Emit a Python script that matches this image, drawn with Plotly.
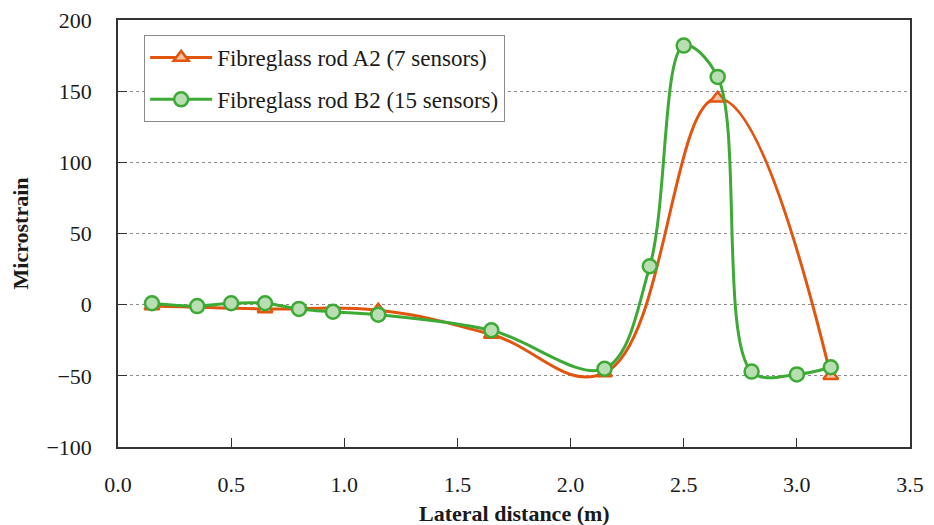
import plotly.graph_objects as go

# Sensor positions (m) and recorded microstrain
a2_x = [0.15, 0.65, 1.15, 1.65, 2.15, 2.65, 3.15]
a2_y = [-1, -3, -4, -21, -48, 145, -50]

b2_x = [0.15, 0.35, 0.5, 0.65, 0.8, 0.95, 1.15, 1.65, 2.15, 2.35, 2.5, 2.65, 2.8, 3.0, 3.15]
b2_y = [1, -1, 1, 1, -3, -5, -7, -18, -45, 27, 182, 160, -47, -49, -44]

x_ticks = [0.0, 0.5, 1.0, 1.5, 2.0, 2.5, 3.0, 3.5]
y_ticks = [-100, -50, 0, 50, 100, 150, 200]

SERIF = "Liberation Serif"

fig = go.Figure()
fig.add_trace(go.Scatter(
    x=a2_x, y=a2_y, mode="lines+markers", name="Fibreglass rod A2 (7 sensors)",
    legendgroup="a2",
    line=dict(color="#E2550F", width=3, shape="spline", smoothing=1.2),
    marker=dict(symbol="triangle-up", size=13, color="#F6C1A3",
                line=dict(color="#E2550F", width=2.5)),
))
fig.add_trace(go.Scatter(
    x=b2_x, y=b2_y, mode="lines+markers", name="Fibreglass rod B2 (15 sensors)",
    legendgroup="b2",
    line=dict(color="#3CAA35", width=3, shape="spline", smoothing=1.0),
    marker=dict(symbol="circle", size=14, color="#B9DEB2",
                line=dict(color="#3CAA35", width=2.5)),
))

# x-axis title placed below the tick labels
fig.add_annotation(
    text="<b>Lateral distance (m)</b>", xref="paper", yref="paper",
    x=0.5, y=-0.1546, xanchor="center", yanchor="middle", showarrow=False,
    font=dict(family=SERIF, size=22, color="#1a1a1a"),
)

fig.update_layout(
    width=934, height=525,
    margin=dict(l=118, r=24, t=20, b=78),
    paper_bgcolor="white", plot_bgcolor="white",
    font=dict(family=SERIF, size=22, color="#1a1a1a"),
    showlegend=True,
    legend=dict(
        x=0.033, y=0.965, xanchor="left", yanchor="top",
        bgcolor="white", bordercolor="#8a8a8a", borderwidth=1,
        font=dict(family=SERIF, size=23, color="#1a1a1a"),
        traceorder="grouped", tracegroupgap=9,
        itemwidth=62,
    ),
    xaxis=dict(
        range=[0, 3.5], tickvals=x_ticks,
        ticktext=[f"{v:.1f}" for v in x_ticks],
        ticks="inside", ticklen=9, tickcolor="#333", tickwidth=1,
        showline=True, linecolor="#333", linewidth=1.5, mirror=True,
        showgrid=False, zeroline=False, automargin=False,
        ticklabelstandoff=17,
    ),
    yaxis=dict(
        range=[-100, 200], tickvals=y_ticks,
        ticktext=[str(v).replace("-", "\u2212") for v in y_ticks],
        ticks="inside", ticklen=9, tickcolor="#333", tickwidth=1,
        showline=True, linecolor="#333", linewidth=1.5, mirror=True,
        showgrid=True, gridcolor="#8c8c8c", gridwidth=1, griddash="dot",
        zeroline=False, automargin=False,
        ticklabelstandoff=20,
        title=dict(text="<b>Microstrain</b>", font=dict(size=22), standoff=12),
    ),
)

fig.write_html("out.html")
